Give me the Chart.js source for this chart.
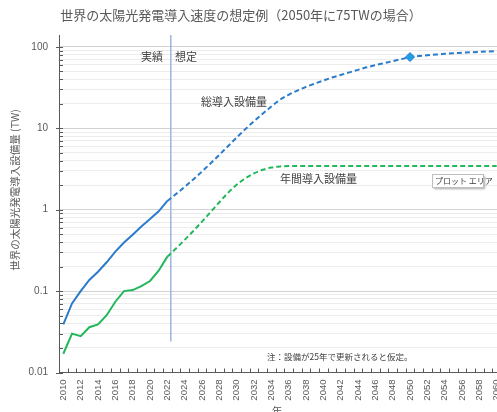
<!DOCTYPE html>
<html><head><meta charset="utf-8">
<script src="https://cdn.jsdelivr.net/npm/chart.js@4/dist/chart.umd.min.js"></script>
<style>
html,body{margin:0;padding:0;background:#fff;overflow:hidden}
#wrap{width:497px;height:412px;overflow:hidden;position:relative;background:#fff}
canvas{display:block}
</style></head><body>
<div id="wrap"><canvas id="c" width="530" height="412" style="width:530px;height:412px"></canvas></div>
<script>
// ---- data (TW) ----
const actualYears = [2010,2011,2012,2013,2014,2015,2016,2017,2018,2019,2020,2021,2022];
const actualTotal = [0.039,0.0705,0.100,0.137,0.173,0.226,0.306,0.395,0.491,0.622,0.767,0.955,1.28];
const actualAnnual = [0.017,0.030,0.028,0.036,0.039,0.0505,0.074,0.100,0.103,0.115,0.133,0.178,0.265];
const projYears = [2022,2023,2024,2025,2026,2027,2028,2029,2030,2031,2032,2033,2034,2035,2036,2037,2038,2039,2040,2041,2042,2043,2044,2045,2046,2047,2048,2049,2050,2051,2052,2053,2054,2055,2056,2057,2058,2059,2060];
const projTotal = [1.28,1.556,1.905,2.355,2.944,3.715,4.72,6.03,7.69,9.77,12.2,15.1,18.5,22.4,25.8,29.1,32.3,35.4,38.6,42.0,45.2,48.6,52.2,56.1,59.6,63.1,66.8,70.8,75,77.1,78.9,80.5,82.2,83.6,84.7,85.9,86.9,87.7,88.5];
const projAnnual = [0.265,0.334,0.426,0.548,0.714,0.938,1.236,1.61,2.03,2.43,2.79,3.09,3.30,3.40,3.44,3.45,3.45,3.45,3.45,3.45,3.45,3.45,3.45,3.45,3.45,3.45,3.45,3.45,3.45,3.45,3.45,3.45,3.45,3.45,3.45,3.45,3.45,3.45,3.45];
const targetYear = [2050];
const targetValue = [75];
const boundaryYear = 2022.4;
const xTickLabels = [2010,2012,2014,2016,2018,2020,2022,2024,2026,2028,2030,2032,2034,2036,2038,2040,2042,2044,2046,2048,2050,2052,2054,2056,2058,2060];
const yMajor = [0.01,0.1,1,10,100];
const yLabels = ['0.01','0.1','1','10','100'];

const title = '世界の太陽光発電導入速度の想定例（2050年に75TWの場合）';
const yTitle = '世界の太陽光発電導入設備量 (TW)';
const xTitle = '年';

const pts = (xs, ys) => xs.map((x, i) => ({x, y: ys[i]}));
const JP = '"Noto Sans CJK JP", sans-serif';
const BLUE = '#2b7bcb', GREEN = '#22b75a';

const yTickVals = [];
for (let k = 0; k < yMajor.length - 1; k++) for (let m = 1; m <= 9; m++) yTickVals.push(+(m * yMajor[k]).toPrecision(3));
yTickVals.push(100);

const decor = {
  id: 'decor',
  afterDraw(chart) {
    const {ctx, chartArea: a, scales: {x, y}} = chart;
    ctx.save();
    ctx.strokeStyle = '#595959'; ctx.lineWidth = 1;
    ctx.beginPath();
    for (let yr = 2009.5; yr <= 2060.5; yr += 1) {
      const px = Math.round(x.getPixelForValue(yr)) + 0.5;
      ctx.moveTo(px, a.bottom); ctx.lineTo(px, a.bottom - 4);
    }
    yTickVals.forEach(v => {
      const py = Math.round(y.getPixelForValue(v)) + 0.5;
      const maj = yMajor.includes(v);
      ctx.moveTo(a.left - (maj ? 3 : 0), py); ctx.lineTo(a.left + 4, py);
    });
    ctx.stroke();
    ctx.fillStyle = '#595959';
    ctx.textBaseline = 'middle';
    ctx.textAlign = 'center';
    ctx.font = '13px ' + JP;
    ctx.fillText(title, 241, 15);
    ctx.save();
    ctx.translate(15, 190); ctx.rotate(-Math.PI / 2);
    ctx.font = '10.5px ' + JP;
    ctx.fillText(yTitle, 0, 0);
    ctx.restore();
    ctx.textBaseline = 'top';
    ctx.font = '10.5px ' + JP;
    ctx.fillText(xTitle, 277, 406);
    ctx.textBaseline = 'middle';
    ctx.fillStyle = '#404040';
    ctx.font = '11px ' + JP;
    ctx.textAlign = 'right';
    ctx.fillText('実績', 163, 57);
    ctx.textAlign = 'left';
    ctx.fillText('想定', 175, 57);
    ctx.fillText('総導入設備量', 201, 102);
    ctx.fillText('年間導入設備量', 280, 179);
    ctx.font = '8.5px ' + JP;
    ctx.fillText('注：設備が25年で更新されると仮定。', 267, 357);
    ctx.shadowColor = 'rgba(0,0,0,0.35)'; ctx.shadowOffsetX = 2; ctx.shadowOffsetY = 2; ctx.shadowBlur = 2;
    ctx.fillStyle = '#ffffff';
    ctx.fillRect(432, 174, 51, 13);
    ctx.shadowColor = 'transparent';
    ctx.strokeStyle = '#bfbfbf';
    ctx.strokeRect(432.5, 174.5, 51, 13);
    ctx.fillStyle = '#404040';
    ctx.font = '8px ' + JP;
    ctx.fillText('プロット エリア', 435, 181);
    ctx.restore();
  }
};

new Chart(document.getElementById('c'), {
  type: 'line',
  data: {
    datasets: [
      {data: pts(targetYear, targetValue), showLine: false, pointStyle: 'rectRot', pointRadius: 4.5, pointBackgroundColor: '#1ea0e6', pointBorderColor: '#2b7bcb', pointBorderWidth: 1},
      {data: pts(actualYears, actualTotal), borderColor: BLUE, borderWidth: 2, pointRadius: 0, tension: 0},
      {data: pts(projYears, projTotal), borderColor: BLUE, borderWidth: 2, borderDash: [5, 3], pointRadius: 0, cubicInterpolationMode: 'monotone'},
      {data: pts(actualYears, actualAnnual), borderColor: GREEN, borderWidth: 2, pointRadius: 0, tension: 0},
      {data: pts(projYears, projAnnual), borderColor: GREEN, borderWidth: 2, borderDash: [5, 3], pointRadius: 0, cubicInterpolationMode: 'monotone'},
      {data: [{x: boundaryYear, y: 0.024}, {x: boundaryYear, y: 140}], borderColor: '#9db5e0', borderWidth: 1.5, pointRadius: 0}
    ]
  },
  options: {
    responsive: false,
    animation: false,
    devicePixelRatio: 1,
    layout: {padding: {top: 35, right: 29, left: 0, bottom: 0}},
    plugins: {legend: {display: false}, tooltip: {enabled: false}, title: {display: false}},
    scales: {
      x: {
        type: 'linear', min: 2009.5, max: 2060.5,
        afterBuildTicks: s => { s.ticks = xTickLabels.map(v => ({value: v})); },
        afterFit: s => { s.height = 39.5; },
        grid: {display: false, drawTicks: false},
        border: {display: true, color: '#595959', width: 1},
        ticks: {autoSkip: false, minRotation: 90, maxRotation: 90, padding: 7, color: '#595959',
          font: {family: '"Liberation Sans", sans-serif', size: 9.5},
          callback: v => String(v)}
      },
      y: {
        type: 'logarithmic', min: 0.01, max: 140,
        afterBuildTicks: s => { s.ticks = yTickVals.map(v => ({value: v})); },
        afterFit: s => { s.width = 59; },
        grid: {drawTicks: false, color: c => (c.tick && yMajor.includes(c.tick.value)) ? '#d2d2d2' : '#ececec', lineWidth: 1},
        border: {display: true, color: '#595959', width: 1},
        ticks: {autoSkip: false, padding: 11, color: '#595959',
          font: {family: '"Liberation Sans", sans-serif', size: 10},
          callback: v => { const i = yMajor.indexOf(v); return i >= 0 ? yLabels[i] : ''; }}
      }
    }
  },
  plugins: [decor]
});
</script>
</body></html>
